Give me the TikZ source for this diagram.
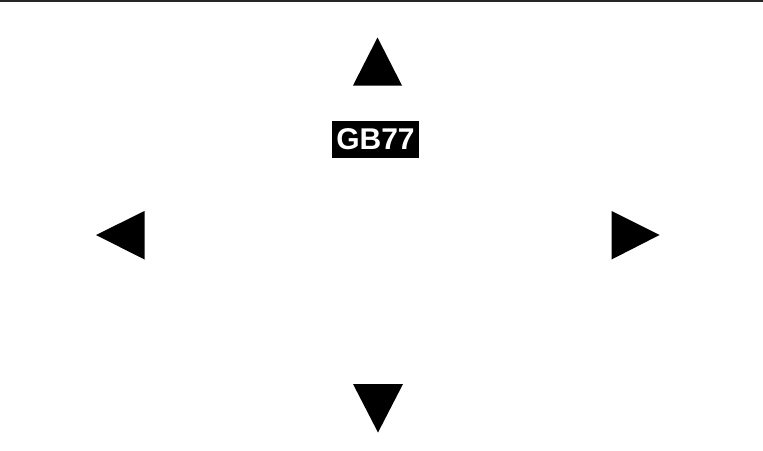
\documentclass[tikz,border=0pt]{standalone}
\usepackage{fontspec}
\setmainfont{Liberation Sans}
\begin{document}
\begin{tikzpicture}[x=1pt,y=-1pt,
  tri/.style={fill=black},
  label/.style={fill=black,text=white,font=\bfseries\fontsize{30}{30}\selectfont,
    inner sep=0pt,minimum width=87pt,minimum height=37pt}]
\useasboundingbox (0,0) rectangle (763,450);
\draw[line width=1.5pt,black!85] (0,0.75) -- (763,0.75);
% up
\fill[tri] (377.5,37.5) -- (402,85.5) -- (353,85.5) -- cycle;
% label
\node[label] (gb) at (375.5,139.5) {GB77};
% left
\fill[tri] (96,235) -- (144.5,211) -- (144.5,259.5) -- cycle;
% right
\fill[tri] (659.5,235) -- (611.5,211) -- (611.5,259.5) -- cycle;
% down
\fill[tri] (378,432.5) -- (353,384) -- (403,384) -- cycle;
\end{tikzpicture}
\end{document}
